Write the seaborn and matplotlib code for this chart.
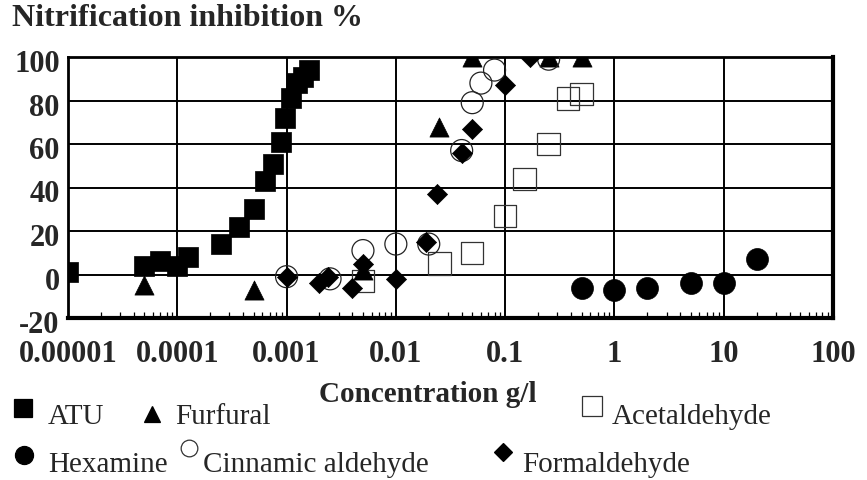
import numpy as np
import pandas as pd
import matplotlib
matplotlib.use("Agg")
import matplotlib.pyplot as plt
import matplotlib.transforms as mtrans
from matplotlib.lines import Line2D
from matplotlib.ticker import LogLocator, NullFormatter, FixedLocator, FixedFormatter
import seaborn as sns

# ---------------- data ----------------
atu_x = [1e-5, 5e-5, 7e-5, 1e-4, 1.25e-4, 2.5e-4, 3.7e-4, 5e-4, 6.3e-4, 7.5e-4,
         8.8e-4, 9.7e-4, 1.1e-3, 1.25e-3, 1.4e-3, 1.6e-3]
atu_y = [1, 4, 6, 4, 8, 14, 22, 30, 43, 51, 61, 72, 81, 88, 91, 94]

furfural_x = [5e-5, 5e-4, 5e-3, 0.025, 0.05, 0.25, 0.5]
furfural_y = [-5, -7, 2, 68, 100, 100, 100]

acetaldehyde_x = [0.005, 0.025, 0.05, 0.1, 0.15, 0.25, 0.375, 0.5]
acetaldehyde_y = [-3, 5, 10, 27, 44, 60, 81, 83]

hexamine_x = [0.5, 1, 2, 5, 10, 20]
hexamine_y = [-6, -7, -6, -4, -4, 7]

cinnamic_x = [0.001, 0.0025, 0.005, 0.01, 0.02, 0.04, 0.05, 0.06, 0.08, 0.25]
cinnamic_y = [-1, -2, 11, 14, 14, 57, 79, 88, 94, 99]

formaldehyde_x = [0.001, 0.002, 0.0024, 0.004, 0.005, 0.01, 0.019, 0.024, 0.04,
                  0.05, 0.1, 0.17]
formaldehyde_y = [-1, -4, -1, -6, 5, -2, 15, 37, 56, 67, 87, 100]

x_ticks = [1e-5, 1e-4, 1e-3, 1e-2, 1e-1, 1, 10, 100]
x_tick_labels = ["0.00001", "0.0001", "0.001", "0.01", "0.1", "1", "10", "100"]
y_ticks = [-20, 0, 20, 40, 60, 80, 100]
y_tick_labels = ["-20", "0", "20", "40", "60", "80", "100"]

# ---------------- style ----------------
sns.set_style("white")
plt.rcParams['font.family'] = ['Liberation Serif', 'DejaVu Serif']

W, H = 867, 480
fig = plt.figure(figsize=(W / 100, H / 100), dpi=100)
ax = fig.add_axes([68 / W, 1 - 318 / H, (833 - 68) / W, (318 - 57) / H])

series = [
    # x, y, marker, size, facecolor, edgecolor, lw
    (atu_x, atu_y, 's', 225, 'black', 'black', 0.5),
    (furfural_x, furfural_y, '^', 190, 'black', 'black', 0.5),
    (acetaldehyde_x, acetaldehyde_y, 's', 260, 'none', '#333333', 0.9),
    (hexamine_x, hexamine_y, 'o', 250, 'black', 'black', 0.5),
    (cinnamic_x, cinnamic_y, 'o', 250, 'none', '#222222', 0.9),
    (formaldehyde_x, formaldehyde_y, 'D', 105, 'black', 'black', 0.5),
]
for xs, ys, m, s, fc, ec, lw in series:
    df = pd.DataFrame({"x": xs, "y": ys})
    sns.scatterplot(data=df, x="x", y="y", ax=ax, marker=m, s=s,
                    facecolor=fc, edgecolor=ec, linewidth=lw,
                    legend=False, zorder=3)

ax.set_xscale('log')
ax.set_xlim(1e-5, 100)
ax.set_ylim(-20, 100)
ax.xaxis.set_major_locator(FixedLocator(x_ticks))
ax.xaxis.set_major_formatter(FixedFormatter(x_tick_labels))
ax.xaxis.set_minor_locator(LogLocator(base=10, subs=np.arange(2, 10), numticks=20))
ax.xaxis.set_minor_formatter(NullFormatter())
ax.set_yticks(y_ticks)
ax.set_yticklabels(y_tick_labels)
ax.set_xlabel("")
ax.set_ylabel("")

ax.grid(True, which='major', color='black', linewidth=1.4)
ax.set_axisbelow(True)
ax.tick_params(axis='x', which='minor', direction='in', length=4, width=0.9,
               color='black', bottom=True)
ax.tick_params(axis='x', which='major', length=0, pad=16, labelsize=22)
ax.tick_params(axis='y', which='major', length=0, pad=6, labelsize=22)
for lab in ax.get_xticklabels() + ax.get_yticklabels():
    lab.set_fontweight('bold')
offset = mtrans.ScaledTranslation(0, -4 / 100, fig.dpi_scale_trans)
for lab in ax.get_yticklabels():
    lab.set_transform(lab.get_transform() + offset)

for side, sp in ax.spines.items():
    sp.set_color('black')
    sp.set_linewidth(2.0)
ax.spines['bottom'].set_linewidth(3.0)
ax.spines['right'].set_linewidth(3.0)

# ---------------- texts ----------------
def fx(px):
    return px / W

def fy(py):
    return 1 - py / H

fig.text(fx(12), fy(4), "Nitrification inhibition %", fontsize=23,
         fontweight='bold', ha='left', va='top')
fig.text(fx(428), fy(395), "Concentration g/l", fontsize=21,
         fontweight='bold', ha='center', va='center')

# ---------------- legend (manual) ----------------
leg = [
    ('s', 13, 'black', 'black', 23, 408, 48, 424, "ATU"),
    ('^', 12, 'black', 'black', 152, 414, 175, 424, "Furfural"),
    ('s', 14, 'none', '#333333', 592, 406, 612, 424, "Acetaldehyde"),
    ('o', 13, 'black', 'black', 24, 455, 48, 472, "Hexamine"),
    ('o', 12, 'none', '#333333', 189, 448, 203, 472, "Cinnamic aldehyde"),
    ('D', 9, 'black', 'black', 503, 452, 522, 472, "Formaldehyde"),
]
for m, ms, fc, ec, mx, my, tx, ty, label in leg:
    fig.add_artist(Line2D([fx(mx)], [fy(my)], transform=fig.transFigure,
                          marker=m, markersize=ms, markerfacecolor=fc,
                          markeredgecolor=ec, markeredgewidth=0.9,
                          linestyle='none'))
    fig.text(fx(tx), fy(ty), label, fontsize=21, ha='left', va='baseline')

fig.savefig("out.png", dpi=100)
